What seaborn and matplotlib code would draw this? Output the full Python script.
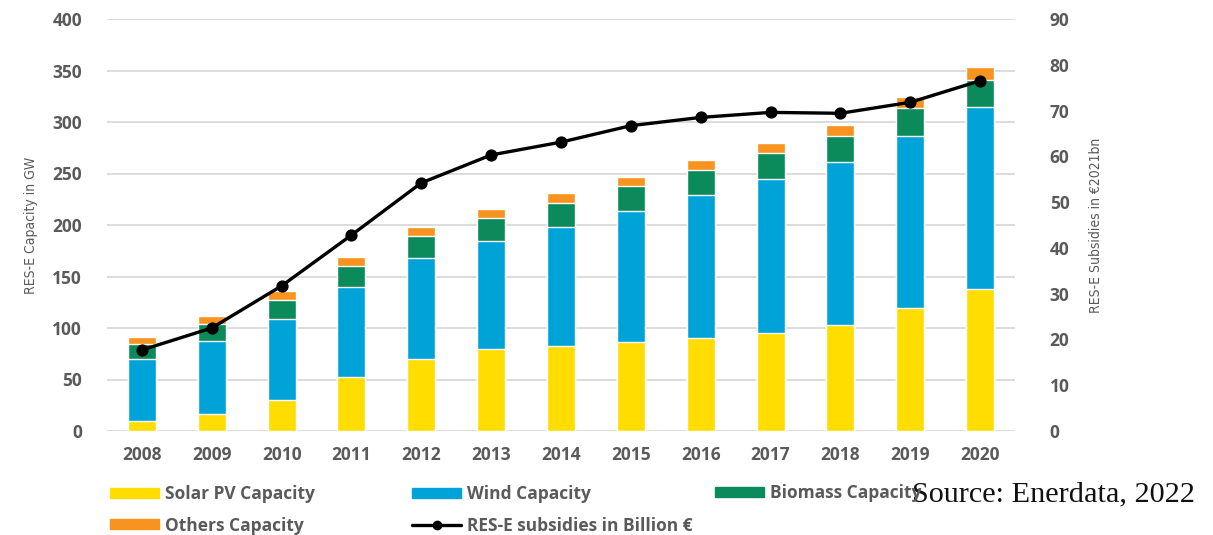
import matplotlib
matplotlib.use("Agg")
import matplotlib.pyplot as plt
from matplotlib.patches import Patch
from matplotlib.lines import Line2D
import numpy as np
import pandas as pd
import seaborn as sns

# Installed renewable capacity (GW) by technology and subsidies (bn €2021)
years = ["2008", "2009", "2010", "2011", "2012", "2013", "2014",
         "2015", "2016", "2017", "2018", "2019", "2020"]
solar = [10, 16.5, 30, 52.5, 70, 79.5, 82.5, 86.5, 90.5, 95, 103, 119, 137.5]
wind = [60, 70.5, 79, 87.5, 98, 105, 115.5, 127.5, 138.5, 150, 158, 167, 177.5]
biomass = [14.5, 17, 18, 20, 21, 22, 23, 24, 24, 25, 25, 28, 26]
others = [6.5, 8, 9, 9, 9, 9.5, 10, 9, 10, 10, 11, 10, 12]
subsidies = [17.7, 22.5, 31.7, 42.8, 54.2, 60.3, 63.1, 66.7, 68.5, 69.6, 69.4, 71.8, 76.5]

left_ticks = [0, 50, 100, 150, 200, 250, 300, 350, 400]
right_ticks = [0, 10, 20, 30, 40, 50, 60, 70, 80, 90]

series_names = ["Solar PV Capacity", "Wind Capacity", "Biomass Capacity", "Others Capacity"]
line_name = "RES-E subsidies in Billion €"

colors = {
    "Solar PV Capacity": "#FFDD00",
    "Wind Capacity": "#00A3D7",
    "Biomass Capacity": "#0B8A5B",
    "Others Capacity": "#F7931E",
}
TXT = "#5a5a5a"

df = pd.DataFrame({"year": years, "Solar PV Capacity": solar, "Wind Capacity": wind,
                   "Biomass Capacity": biomass, "Others Capacity": others,
                   "subsidies": subsidies})
# cumulative tops for stacking
cum = df[series_names].cumsum(axis=1)

sns.set_theme(style="white")
plt.rcParams["font.family"] = ["Open Sans", "DejaVu Sans"]

W, H = 1213, 535
fig = plt.figure(figsize=(W / 100, H / 100), dpi=100)
ax = fig.add_axes([107 / W, 1 - 431 / H, (1015 - 107) / W, (431 - 19) / H])

# stacked bars: draw the tallest layer first, then cover with the lower ones
for name in reversed(series_names):
    sns.barplot(x=df["year"], y=cum[name], color=colors[name], saturation=1,
                width=0.4, ax=ax, zorder=2)

ax.set_ylim(0, 400)
ax.set_yticks(left_ticks)
ax.set_xlim(-0.5, len(years) - 0.5)
ax.yaxis.grid(True, color="#d9d9d9", lw=1.3, zorder=0)
ax.xaxis.grid(False)
ax.set_axisbelow(True)
for s in ax.spines.values():
    s.set_visible(False)
ax.tick_params(axis="both", length=0, colors=TXT, labelsize=12.5)
ax.tick_params(axis="y", pad=18)
ax.tick_params(axis="x", pad=11)
for lab in ax.get_xticklabels() + ax.get_yticklabels():
    lab.set_fontweight("bold")
ax.set_xlabel("")
axis_title = dict(family=["DejaVu Sans"], fontstretch="condensed", fontsize=10,
                  color=TXT)
ax.set_ylabel("RES-E Capacity in GW", labelpad=10, **axis_title)

# subsidies on secondary axis
ax2 = ax.twinx()
sns.pointplot(x=df["year"], y=df["subsidies"], ax=ax2, color="black",
              markers="o", markersize=7, linewidth=2.4, zorder=5)
ax2.set_ylim(0, 90)
ax2.set_yticks(right_ticks)
ax2.set_xlim(-0.5, len(years) - 0.5)
ax2.grid(False)
for s in ax2.spines.values():
    s.set_visible(False)
ax2.tick_params(axis="y", length=0, colors=TXT, labelsize=12.5, pad=25)
for lab in ax2.get_yticklabels():
    lab.set_fontweight("bold")
ax2.set_ylabel("RES-E Subsidies in €2021bn", labelpad=14, **axis_title)

# legend, laid out in three columns
leg_kw = dict(frameon=False, borderpad=0, borderaxespad=0,
              handlelength=2.85, handleheight=0.5, handletextpad=0.3,
              labelspacing=0.75, loc="center left", labelcolor=TXT,
              prop={"weight": "bold", "size": 12.5, "family": "Open Sans"})
h_solar = Patch(color=colors["Solar PV Capacity"])
h_wind = Patch(color=colors["Wind Capacity"])
h_bio = Patch(color=colors["Biomass Capacity"])
h_oth = Patch(color=colors["Others Capacity"])
h_line = Line2D([], [], color="black", lw=2.4, marker="o", markersize=6)

fig.legend([h_solar, h_oth], ["Solar PV Capacity", "Others Capacity"],
           bbox_to_anchor=(110 / W, 1 - 510 / H), **leg_kw)
fig.legend([h_wind, h_line], ["Wind Capacity", line_name],
           bbox_to_anchor=(412 / W, 1 - 510 / H), **leg_kw)
fig.legend([h_bio], ["Biomass Capacity"],
           bbox_to_anchor=(715 / W, 1 - 493 / H), **leg_kw)

fig.text(912 / W, 1 - 501 / H, "Source: Enerdata, 2022", family="Liberation Serif",
         fontsize=21.8, color="#111111", va="baseline", ha="left")

fig.savefig("out.png", dpi=100)
